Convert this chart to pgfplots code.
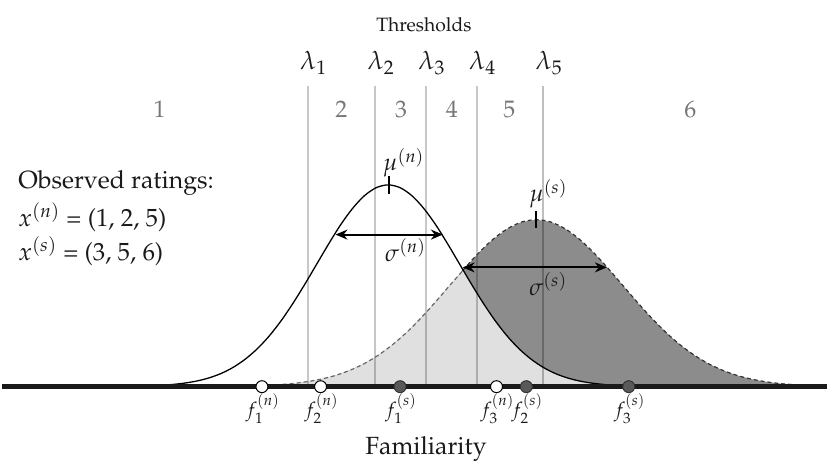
\documentclass[border=0pt]{standalone}
\usepackage[T1]{fontenc}
\usepackage{mathpazo}
\usepackage{pgfplots}
\usepackage{pgfplotstable}
\pgfplotsset{compat=1.18}
\usetikzlibrary{arrows.meta}

\definecolor{darkfill}{HTML}{8C8C8C}
\definecolor{lightfill}{HTML}{E0E0E0}
\definecolor{ptfill}{HTML}{595959}
\definecolor{numgray}{HTML}{777777}
\definecolor{txt}{HTML}{1A1A1A}

% noise distribution (baseline at y = 74)
\pgfplotstableread{
x y
100 74.1
112 74.1
124 74.2
136 74.4
148 74.8
160 75.3
172 76.3
184 77.7
196 79.8
208 82.9
220 87.3
232 93.4
244 101.5
256 111.8
268 124.6
280 139.9
292 157.5
304 176.8
316 197.1
328 217.4
340 236.6
352 253.1
364 266.0
376 274.2
388 277.0
400 274.2
412 266.0
424 253.1
436 236.6
448 217.4
460 197.1
472 176.8
484 157.5
496 139.9
508 124.6
520 111.8
532 101.5
544 93.4
556 87.3
568 82.9
580 79.8
592 77.7
604 76.3
616 75.3
628 74.8
640 74.4
652 74.2
664 74.1
676 74.1
}\noisetab

% signal distribution, left of the crossing
\pgfplotstableread{
x y
247 74.7
261.5 75.1
276 75.9
290.5 77.0
305 78.8
319.5 81.4
334 85.0
348.5 90.1
363 96.7
377.5 105.3
392 115.9
406.5 128.5
421 143.1
435.5 159.1
450 175.9
463.5 191.2
}\sigleft

% signal distribution, right of the crossing
\pgfplotstableread{
x y
463.5 191.2
464.5 192.7
479 208.5
493.5 222.3
508 232.9
522.5 239.7
537 242.0
551.5 239.7
566 232.9
580.5 222.3
595 208.5
609.5 192.7
624 175.9
638.5 159.1
653 143.1
667.5 128.5
682 115.9
696.5 105.3
711 96.7
725.5 90.1
740 85.0
754.5 81.4
769 78.8
783.5 77.0
798 75.9
812.5 75.1
827 74.7
}\sigright

% whole signal area, closed at the baseline
\pgfplotstableread{
x y
247 74
247 74.7
261.5 75.1
276 75.9
290.5 77.0
305 78.8
319.5 81.4
334 85.0
348.5 90.1
363 96.7
377.5 105.3
392 115.9
406.5 128.5
421 143.1
435.5 159.1
450 175.9
464.5 192.7
479 208.5
493.5 222.3
508 232.9
522.5 239.7
537 242.0
551.5 239.7
566 232.9
580.5 222.3
595 208.5
609.5 192.7
624 175.9
638.5 159.1
653 143.1
667.5 128.5
682 115.9
696.5 105.3
711 96.7
725.5 90.1
740 85.0
754.5 81.4
769 78.8
783.5 77.0
798 75.9
812.5 75.1
827 74.7
827 74
}\sigfill

% overlap of the two distributions
\pgfplotstableread{
x y
247 74
247 74.7
261.5 75.1
276 75.9
290.5 77.0
305 78.8
319.5 81.4
334 85.0
348.5 90.1
363 96.7
377.5 105.3
392 115.9
406.5 128.5
421 143.1
435.5 159.1
450 175.9
463.5 191.2
472 176.8
484 157.5
496 139.9
508 124.6
520 111.8
532 101.5
544 93.4
556 87.3
568 82.9
580 79.8
592 77.7
604 76.3
616 75.3
628 74.8
640 74.4
652 74.2
664 74.1
676 74.1
676 74
}\overlaptab

\begin{document}
\begin{tikzpicture}[every node/.append style={inner sep=0pt, outer sep=0pt}]
\begin{axis}[
  x=0.5pt, y=0.5pt,
  xmin=0, xmax=829, ymin=0, ymax=463,
  hide axis, clip=false,
]
\path (0,0) rectangle (829,463);

% filled areas
\addplot[fill=darkfill, draw=none] table {\sigfill};
\addplot[fill=lightfill, draw=none] table {\overlaptab};

% thresholds
\addplot[black, opacity=0.22, line width=1pt] coordinates {(307,74) (307,376)};
\addplot[black, opacity=0.22, line width=1pt] coordinates {(375,74) (375,376)};
\addplot[black, opacity=0.22, line width=1pt] coordinates {(426,74) (426,376)};
\addplot[black, opacity=0.22, line width=1pt] coordinates {(477,74) (477,376)};
\addplot[black, opacity=0.25, line width=1pt] coordinates {(544,74) (544,376)};

% curves
\addplot[black!60!white, line width=0.6pt, dash pattern=on 2pt off 1.5pt, smooth] table {\sigleft};
\addplot[black!80!white, line width=0.6pt, dash pattern=on 2pt off 1.5pt, smooth] table {\sigright};
\addplot[black, line width=0.65pt, smooth] table {\noisetab};

% baseline
\addplot[txt, line width=2.5pt] coordinates {(0,74) (829,74)};

% means
\addplot[black, line width=1pt] coordinates {(389,268) (389,286)};
\addplot[black, line width=1pt] coordinates {(537,234) (537,251)};

% spreads
\addplot[black, line width=1pt, {Stealth[length=6pt,width=5pt]}-{Stealth[length=6pt,width=5pt]}]
  coordinates {(335,227) (443,227)};
\addplot[black, line width=1pt, {Stealth[length=6pt,width=5pt]}-{Stealth[length=6pt,width=5pt]}]
  coordinates {(463,194) (608,194)};

% familiarity samples
\addplot[only marks, mark=*, mark size=3pt, mark options={fill=white, draw=black, line width=0.5pt}]
  coordinates {(261,74) (320,74) (497,74)};
\addplot[only marks, mark=*, mark size=3pt, mark options={fill=ptfill, draw=black!80, line width=0.5pt}]
  coordinates {(400,74) (527,74) (630,74)};

% labels
\node[txt, anchor=base, font=\fontsize{9.7}{10}\selectfont] at (424,431) {Thresholds};
\node[txt, anchor=base, font=\fontsize{13}{14}\selectfont] at (313,393) {$\lambda_1$};
\node[txt, anchor=base, font=\fontsize{13}{14}\selectfont] at (381,393) {$\lambda_2$};
\node[txt, anchor=base, font=\fontsize{13}{14}\selectfont] at (432,393) {$\lambda_3$};
\node[txt, anchor=base, font=\fontsize{13}{14}\selectfont] at (483,393) {$\lambda_4$};
\node[txt, anchor=base, font=\fontsize{13}{14}\selectfont] at (550,393) {$\lambda_5$};

\node[numgray, anchor=base, font=\fontsize{12}{13}\selectfont] at (158,345) {1};
\node[numgray, anchor=base, font=\fontsize{12}{13}\selectfont] at (341,345) {2};
\node[numgray, anchor=base, font=\fontsize{12}{13}\selectfont] at (401,345) {3};
\node[numgray, anchor=base, font=\fontsize{12}{13}\selectfont] at (452,345) {4};
\node[numgray, anchor=base, font=\fontsize{12}{13}\selectfont] at (510,345) {5};
\node[numgray, anchor=base, font=\fontsize{12}{13}\selectfont] at (692,345) {6};

\node[txt, anchor=base west, font=\fontsize{12.5}{14}\selectfont] at (16,273) {Observed ratings:};
\node[txt, anchor=base west, font=\fontsize{12.5}{14}\selectfont] at (16,235) {$x^{(n)}$ = (1, 2, 5)};
\node[txt, anchor=base west, font=\fontsize{12.5}{14}\selectfont] at (16,201) {$x^{(s)}$ = (3, 5, 6)};

\node[txt, anchor=base west, font=\fontsize{12}{13}\selectfont] at (383,291) {$\mu^{(n)}$};
\node[txt, anchor=base west, font=\fontsize{12}{13}\selectfont] at (530,260) {$\mu^{(s)}$};
\node[txt, anchor=base west, font=\fontsize{12}{13}\selectfont] at (385,200) {$\sigma^{(n)}$};
\node[txt, anchor=base west, font=\fontsize{12}{13}\selectfont] at (530,166) {$\sigma^{(s)}$};

\node[txt, anchor=base, font=\fontsize{10}{11}\selectfont] at (262,44) {$f_1^{(n)}$};
\node[txt, anchor=base, font=\fontsize{10}{11}\selectfont] at (321,44) {$f_2^{(n)}$};
\node[txt, anchor=base, font=\fontsize{10}{11}\selectfont] at (401,44) {$f_1^{(s)}$};
\node[txt, anchor=base, font=\fontsize{10}{11}\selectfont] at (498,44) {$f_3^{(n)}$};
\node[txt, anchor=base, font=\fontsize{10}{11}\selectfont] at (528,44) {$f_2^{(s)}$};
\node[txt, anchor=base, font=\fontsize{10}{11}\selectfont] at (631,44) {$f_3^{(s)}$};

\node[txt, anchor=base, font=\fontsize{12.5}{14}\selectfont] at (426,6) {Familiarity};
\end{axis}
\end{tikzpicture}
\end{document}
